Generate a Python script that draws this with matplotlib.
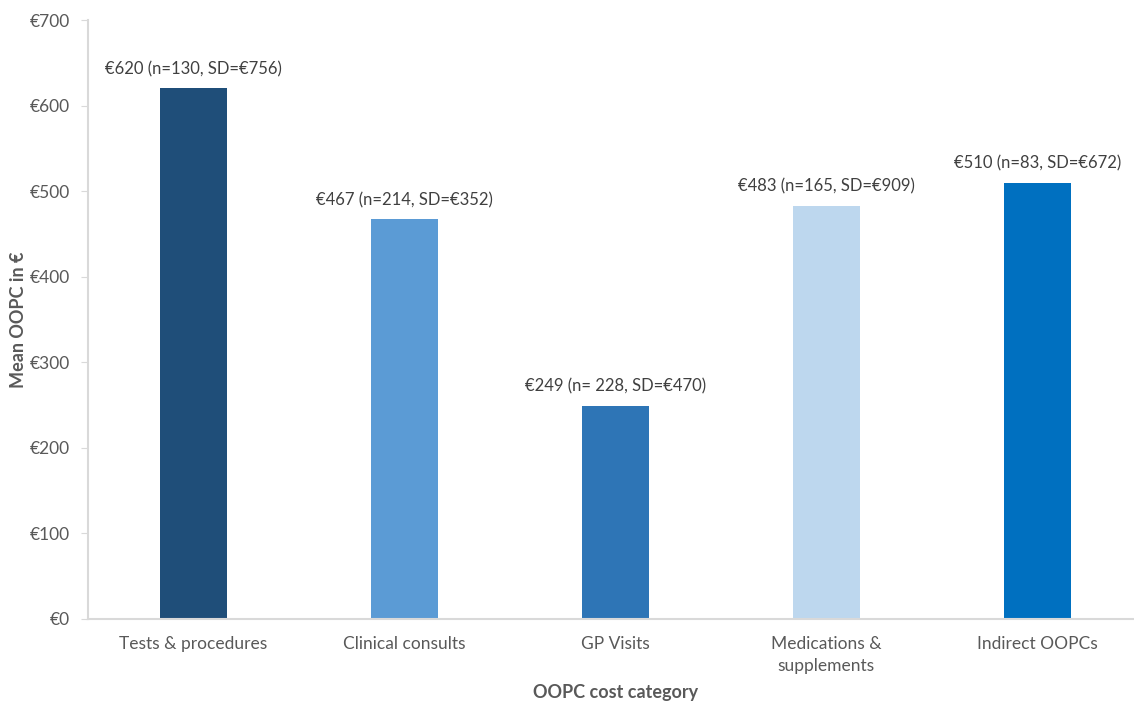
import matplotlib
matplotlib.use("Agg")
import matplotlib.pyplot as plt

categories = ["Tests & procedures", "Clinical consults", "GP Visits",
              "Medications &\nsupplements", "Indirect OOPCs"]
means = [620, 467, 249, 483, 510]
labels = ["€620 (n=130, SD=€756)", "€467 (n=214, SD=€352)", "€249 (n= 228, SD=€470)",
          "€483 (n=165, SD=€909)", "€510 (n=83, SD=€672)"]
colors = ["#1F4E79", "#5B9BD5", "#2E75B6", "#BDD7EE", "#0070C0"]

plt.rcParams['font.family'] = ['Lato', 'DejaVu Sans']

fig = plt.figure(figsize=(11.34, 7.05), dpi=100)
ax = fig.add_axes([0.0776, 0.122, 0.930, 0.8496])

x = range(len(categories))
bars = ax.bar(x, means, width=0.317, color=colors)
for b, lab in zip(bars, labels):
    ax.annotate(lab, (b.get_x() + b.get_width() / 2, b.get_height()),
                xytext=(0, 8), textcoords="offset points",
                ha="center", va="bottom", fontsize=12, color="#404040")

ax.set_xlim(-0.5, 4.5)
ax.set_ylim(0, 700)
ax.set_yticks(range(0, 701, 100))
ax.set_yticklabels(["€%d" % v for v in range(0, 701, 100)])
ax.set_xticks(list(x))
ax.set_xticklabels(categories, linespacing=1.45)

for s in ["top", "right"]:
    ax.spines[s].set_visible(False)
for s in ["left", "bottom"]:
    ax.spines[s].set_color("#D9D9D9")
    ax.spines[s].set_linewidth(1.5)
ax.tick_params(axis="y", colors="#D9D9D9", labelcolor="#595959", labelsize=12.5, length=5, pad=8)
ax.tick_params(axis="x", length=0, labelcolor="#595959", labelsize=12.5, pad=12)

ax.set_ylabel("Mean OOPC in €", fontsize=13, fontweight="bold", color="#595959")
ax.set_xlabel("OOPC cost category", fontsize=13, fontweight="bold", color="#595959")
ax.yaxis.set_label_coords(-0.058, 0.5)
ax.xaxis.set_label_coords(0.5, -0.108)

fig.savefig("out.png", dpi=100)
